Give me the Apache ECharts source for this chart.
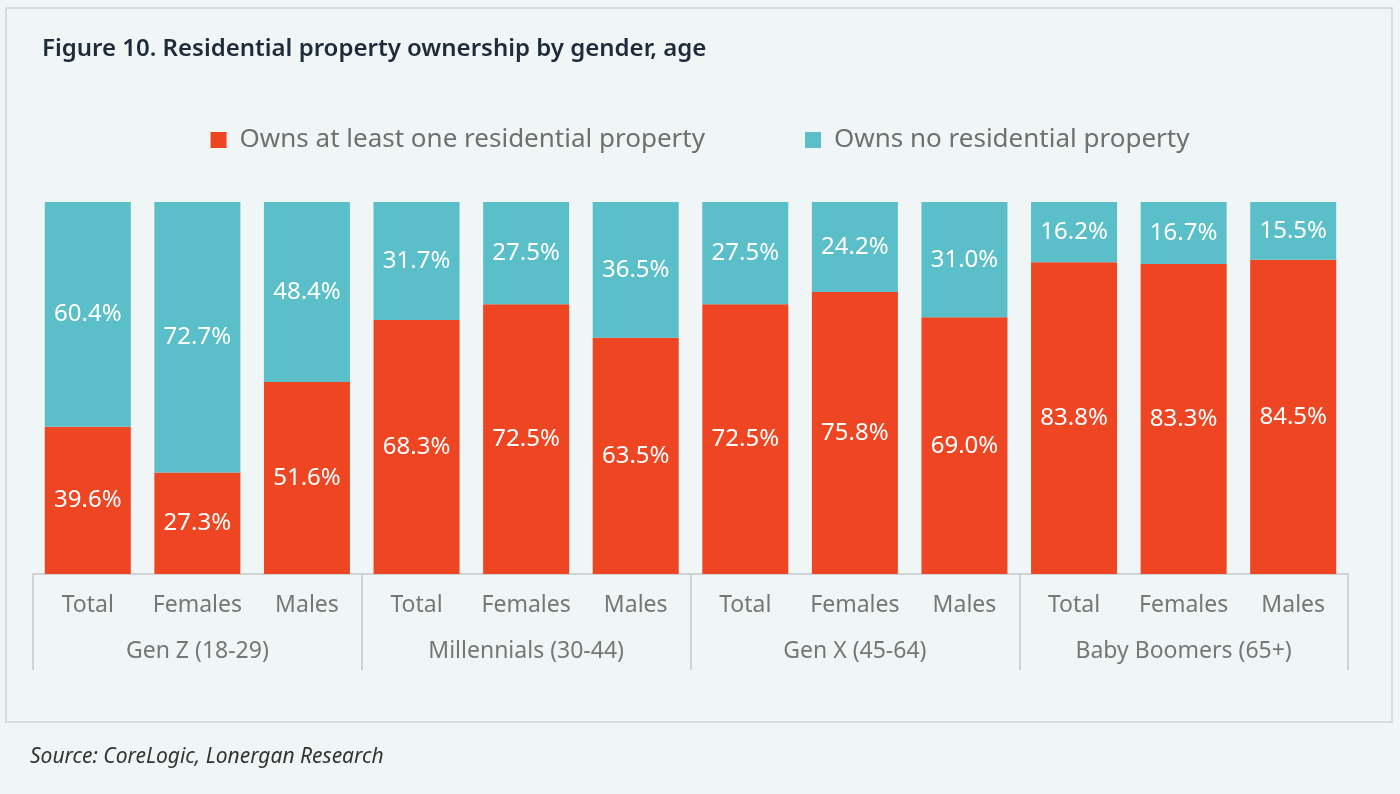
<!DOCTYPE html>
<html><head><meta charset="utf-8">
<script src="https://cdn.jsdelivr.net/npm/echarts@6/dist/echarts.min.js"></script>
<style>html,body{margin:0;background:#f0f5f5}#c{width:1400px;height:794px}</style>
</head><body><div id="c"></div>
<script>
const categories = ['Total','Females','Males','Total','Females','Males','Total','Females','Males','Total','Females','Males'];
const groups = ['Gen Z (18-29)','Millennials (30-44)','Gen X (45-64)','Baby Boomers (65+)'];
const owns = [39.6,27.3,51.6,68.3,72.5,63.5,72.5,75.8,69.0,83.8,83.3,84.5];
const ownsNo = [60.4,72.7,48.4,31.7,27.5,36.5,27.5,24.2,31.0,16.2,16.7,15.5];
const F = '"Noto Sans", sans-serif';
const chart = echarts.init(document.getElementById('c'));
const lbl = {show:true,position:'inside',color:'#fff',fontSize:24,fontFamily:F,formatter:p=>p.value.toFixed(1)+'%'};
chart.setOption({
  backgroundColor:'#f0f5f5',
  animation:false,
  title:{text:'Figure 10. Residential property ownership by gender, age',left:37,top:32,
    textStyle:{fontSize:24,fontWeight:600,color:'#1e2b3a',fontFamily:F}},
  legend:{top:122,left:'center',itemWidth:16,itemHeight:16,itemGap:100,icon:'rect',
    textStyle:{fontSize:26,color:'#707070',fontFamily:F,padding:[0,0,0,8]}},
  grid:{left:33,right:52,top:202,bottom:220},
  xAxis:[
    {type:'category',data:categories,axisLine:{lineStyle:{color:'#cfd3d6',width:2}},axisTick:{show:false},
     axisLabel:{fontSize:23,color:'#777',fontFamily:F,margin:20,interval:0}},
    {type:'category',data:groups,position:'bottom',axisLine:{show:false},
     axisTick:{show:true,length:96,lineStyle:{color:'#cfd3d6',width:2}},
     axisLabel:{fontSize:23,color:'#777',fontFamily:F,margin:66,interval:0}}
  ],
  yAxis:{type:'value',min:0,max:100,show:false},
  series:[
    {name:'Owns at least one residential property',type:'bar',stack:'a',data:owns,barWidth:86,
     itemStyle:{color:'#ee4622'},label:lbl},
    {name:'Owns no residential property',type:'bar',stack:'a',data:ownsNo,barWidth:86,
     itemStyle:{color:'#5bbfca'},label:lbl}
  ],
  graphic:[
    {type:'rect',shape:{x:6,y:8,width:1386,height:714},style:{fill:'none',stroke:'#cfd3d6',lineWidth:1.5},z:-1},
    {type:'text',left:30,top:747,style:{text:'Source: CoreLogic, Lonergan Research',fontSize:21,fontStyle:'italic',fill:'#333',fontFamily:F}}
  ]
});
</script></body></html>
